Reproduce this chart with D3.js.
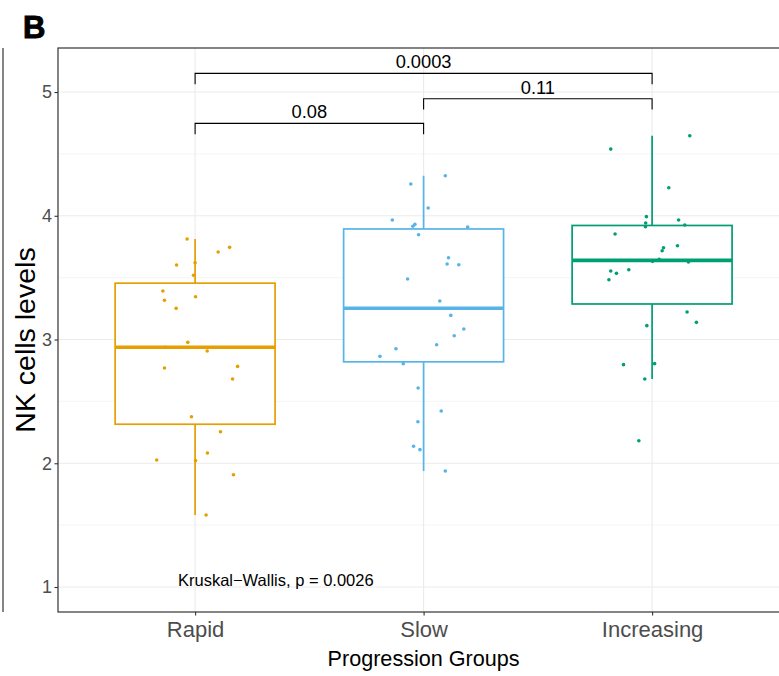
<!DOCTYPE html>
<html>
<head>
<meta charset="utf-8">
<script src="https://cdn.jsdelivr.net/npm/d3@7"></script>
<style>
  html, body { margin: 0; padding: 0; background: #fff; }
  svg { display: block; font-family: "Liberation Sans", Arial, Helvetica, sans-serif; }
</style>
</head>
<body>
<svg id="chart" width="779" height="676"></svg>
<script>
// ---- data ----
const groups = ["Rapid", "Slow", "Increasing"];
const groupColors = ["#E69F00", "#56B4E9", "#009E73"];

// NK cell levels per patient, with the horizontal jitter (in category widths)
const rapidValues = [3.812, 3.745, 3.707, 3.602, 3.621, 3.519, 3.392, 3.317, 3.346, 3.252, 2.977, 2.907,
  2.770, 2.783, 2.681, 2.376, 2.255, 2.083, 2.026, 2.021, 1.907, 1.582, 2.937];
const rapidJitter = [-0.035, 0.151, 0.101, -0.081, 0.000, -0.007, -0.141, -0.134, 0.002, -0.083, -0.032, 0.053,
  -0.134, 0.186, 0.164, -0.016, 0.111, 0.054, -0.168, 0.002, 0.168, 0.048, -0.130];

const slowValues = [4.324, 4.257, 4.063, 3.966, 3.931, 3.915, 3.909, 3.847, 3.661, 3.610, 3.604, 3.489, 3.311,
  3.195, 3.085, 3.031, 2.958, 2.926, 2.864, 2.805, 2.608, 2.422, 2.336, 2.137, 2.110, 1.937];
const slowJitter = [0.095, -0.056, 0.020, -0.137, -0.038, -0.047, 0.193, -0.022, 0.109, 0.103, 0.154, -0.070, 0.071,
  0.119, 0.176, 0.134, 0.057, -0.121, -0.191, -0.089, -0.024, 0.077, -0.025, -0.044, -0.016, 0.095];

const increasingValues = [4.647, 4.539, 4.227, 3.993, 3.966, 3.942, 3.925, 3.912, 3.853, 3.758, 3.742, 3.718, 3.648,
  3.632, 3.626, 3.554, 3.564, 3.535, 3.483, 3.222, 3.139, 3.112, 2.797, 2.805, 2.681, 2.182];
const increasingJitter = [0.165, -0.181, 0.073, -0.025, 0.116, -0.028, 0.143, -0.029, -0.162, 0.111, 0.050, 0.044, 0.031,
  0.002, 0.159, -0.181, -0.102, -0.156, -0.189, 0.153, 0.194, -0.023, -0.125, 0.011, -0.032, -0.058];

const yTicks = [1, 2, 3, 4, 5];
const yMinorTicks = [1.5, 2.5, 3.5, 4.5];

// pairwise comparisons (Wilcoxon p-values) and their bracket heights
const comparisonPairs = [["Rapid", "Slow"], ["Slow", "Increasing"], ["Rapid", "Increasing"]];
const comparisonLabels = ["0.08", "0.11", "0.0003"];
const comparisonHeights = [4.747, 4.946, 5.151];
const bracketTip = 0.088;

const kruskalLabel = "Kruskal\u2212Wallis, p = 0.0026";
const kruskalPos = [0.525, 1.0]; // [category position, y value]

const xTitle = "Progression Groups";
const yTitle = "NK cells levels";
const panelTag = "B";

// ---- layout ----
const svg = d3.select("#chart");
const panel = { left: 58, top: 48, right: 789.2, bottom: 612 };

const x = d3.scalePoint().domain(groups).range([panel.left, panel.right]).padding(0.6);
const step = x.step();
const y = d3.scaleLinear().domain([0.798, 5.356]).range([panel.bottom, panel.top]);

const series = [
  { values: rapidValues, jitter: rapidJitter },
  { values: slowValues, jitter: slowJitter },
  { values: increasingValues, jitter: increasingJitter }
].map((s, i) => Object.assign(s, { group: groups[i], color: groupColors[i] }));

// edge of the neighbouring panel
svg.append("line")
  .attr("x1", 3).attr("x2", 3).attr("y1", panel.top).attr("y2", panel.bottom)
  .attr("stroke", "#333").attr("stroke-width", 1.2);

// panel tag
svg.append("text")
  .attr("x", 23).attr("y", 37.5)
  .attr("font-size", 31).attr("font-weight", "bold")
  .attr("stroke", "#000").attr("stroke-width", 1)
  .attr("fill", "#000")
  .text(panelTag);

const plot = svg.append("g");
svg.append("clipPath").attr("id", "panel-clip")
  .append("rect")
  .attr("x", panel.left).attr("y", panel.top)
  .attr("width", panel.right - panel.left).attr("height", panel.bottom - panel.top);

const grid = plot.append("g").attr("clip-path", "url(#panel-clip)");
grid.selectAll("line.minor").data(yMinorTicks).join("line")
  .attr("class", "minor")
  .attr("x1", panel.left).attr("x2", panel.right)
  .attr("y1", d => y(d)).attr("y2", d => y(d))
  .attr("stroke", "#F2F2F2").attr("stroke-width", 0.8);
grid.selectAll("line.major").data(yTicks).join("line")
  .attr("class", "major")
  .attr("x1", panel.left).attr("x2", panel.right)
  .attr("y1", d => y(d)).attr("y2", d => y(d))
  .attr("stroke", "#EBEBEB").attr("stroke-width", 1.1);
grid.selectAll("line.vmajor").data(groups).join("line")
  .attr("class", "vmajor")
  .attr("x1", d => x(d)).attr("x2", d => x(d))
  .attr("y1", panel.top).attr("y2", panel.bottom)
  .attr("stroke", "#EBEBEB").attr("stroke-width", 1.1);

// boxplots
const boxWidth = 0.7 * step;
const boxes = plot.append("g").attr("clip-path", "url(#panel-clip)");
series.forEach(s => {
  const sorted = s.values.slice().sort(d3.ascending);
  const q1 = d3.quantile(sorted, 0.25);
  const med = d3.quantile(sorted, 0.5);
  const q3 = d3.quantile(sorted, 0.75);
  const iqr = q3 - q1;
  const lo = d3.min(sorted.filter(v => v >= q1 - 1.5 * iqr));
  const hi = d3.max(sorted.filter(v => v <= q3 + 1.5 * iqr));
  const cx = x(s.group);
  const g = boxes.append("g");
  g.append("line").attr("x1", cx).attr("x2", cx).attr("y1", y(q3)).attr("y2", y(hi))
    .attr("stroke", s.color).attr("stroke-width", 1.7);
  g.append("line").attr("x1", cx).attr("x2", cx).attr("y1", y(q1)).attr("y2", y(lo))
    .attr("stroke", s.color).attr("stroke-width", 1.7);
  g.append("rect")
    .attr("x", cx - boxWidth / 2).attr("y", y(q3))
    .attr("width", boxWidth).attr("height", y(q1) - y(q3))
    .attr("fill", "#fff").attr("stroke", s.color).attr("stroke-width", 1.7);
  g.append("line")
    .attr("x1", cx - boxWidth / 2).attr("x2", cx + boxWidth / 2)
    .attr("y1", y(med)).attr("y2", y(med))
    .attr("stroke", s.color).attr("stroke-width", 3.6);
});

// jittered points
series.forEach(s => {
  boxes.append("g").selectAll("circle")
    .data(s.values.map((v, i) => ({ v, j: s.jitter[i] })))
    .join("circle")
    .attr("cx", d => x(s.group) + d.j * step)
    .attr("cy", d => y(d.v))
    .attr("r", 1.8)
    .attr("fill", s.color);
});

// comparison brackets
const brackets = plot.append("g");
comparisonPairs.forEach((pair, i) => {
  const x1 = x(pair[0]), x2 = x(pair[1]);
  const yh = y(comparisonHeights[i]);
  const yt = y(comparisonHeights[i] - bracketTip);
  brackets.append("path")
    .attr("d", `M${x1},${yt}V${yh}H${x2}V${yt}`)
    .attr("fill", "none").attr("stroke", "#000").attr("stroke-width", 1.1);
  brackets.append("text")
    .attr("x", (x1 + x2) / 2).attr("y", yh - 5)
    .attr("text-anchor", "middle")
    .attr("font-size", 18.3).attr("fill", "#000")
    .text(comparisonLabels[i]);
});

// Kruskal-Wallis annotation
plot.append("text")
  .attr("x", panel.left + kruskalPos[0] * step)
  .attr("y", y(kruskalPos[1]) - 1.5)
  .attr("font-size", 16.5).attr("fill", "#000")
  .text(kruskalLabel);

// panel border (right side runs off the canvas)
plot.append("rect")
  .attr("x", panel.left).attr("y", panel.top)
  .attr("width", panel.right - panel.left).attr("height", panel.bottom - panel.top)
  .attr("fill", "none").attr("stroke", "#333").attr("stroke-width", 1.2);

// axes
const yAxis = svg.append("g")
  .attr("transform", `translate(${panel.left},0)`)
  .call(d3.axisLeft(y).tickValues(yTicks).tickSize(3.5).tickPadding(2.5).tickFormat(d3.format("d")));
yAxis.select(".domain").remove();
yAxis.selectAll(".tick line").attr("stroke", "#333").attr("stroke-width", 1.1);
yAxis.selectAll(".tick text")
  .attr("font-size", 18).attr("fill", "#4D4D4D")
  .attr("font-family", "'Liberation Sans', Arial, sans-serif");

const xAxis = svg.append("g")
  .attr("transform", `translate(0,${panel.bottom})`)
  .call(d3.axisBottom(x).tickSize(3.5).tickPadding(6));
xAxis.select(".domain").remove();
xAxis.selectAll(".tick line").attr("stroke", "#333").attr("stroke-width", 1.1);
xAxis.selectAll(".tick text")
  .attr("font-size", 22).attr("fill", "#4D4D4D")
  .attr("font-family", "'Liberation Sans', Arial, sans-serif");

// axis titles
svg.append("text")
  .attr("x", (panel.left + panel.right) / 2).attr("y", 666)
  .attr("text-anchor", "middle")
  .attr("font-size", 21.6).attr("fill", "#000")
  .text(xTitle);

svg.append("text")
  .attr("transform", `translate(34.5,${(panel.top + panel.bottom) / 2 + 10}) rotate(-90)`)
  .attr("text-anchor", "middle")
  .attr("font-size", 28.5).attr("fill", "#000")
  .text(yTitle);
</script>
</body>
</html>
